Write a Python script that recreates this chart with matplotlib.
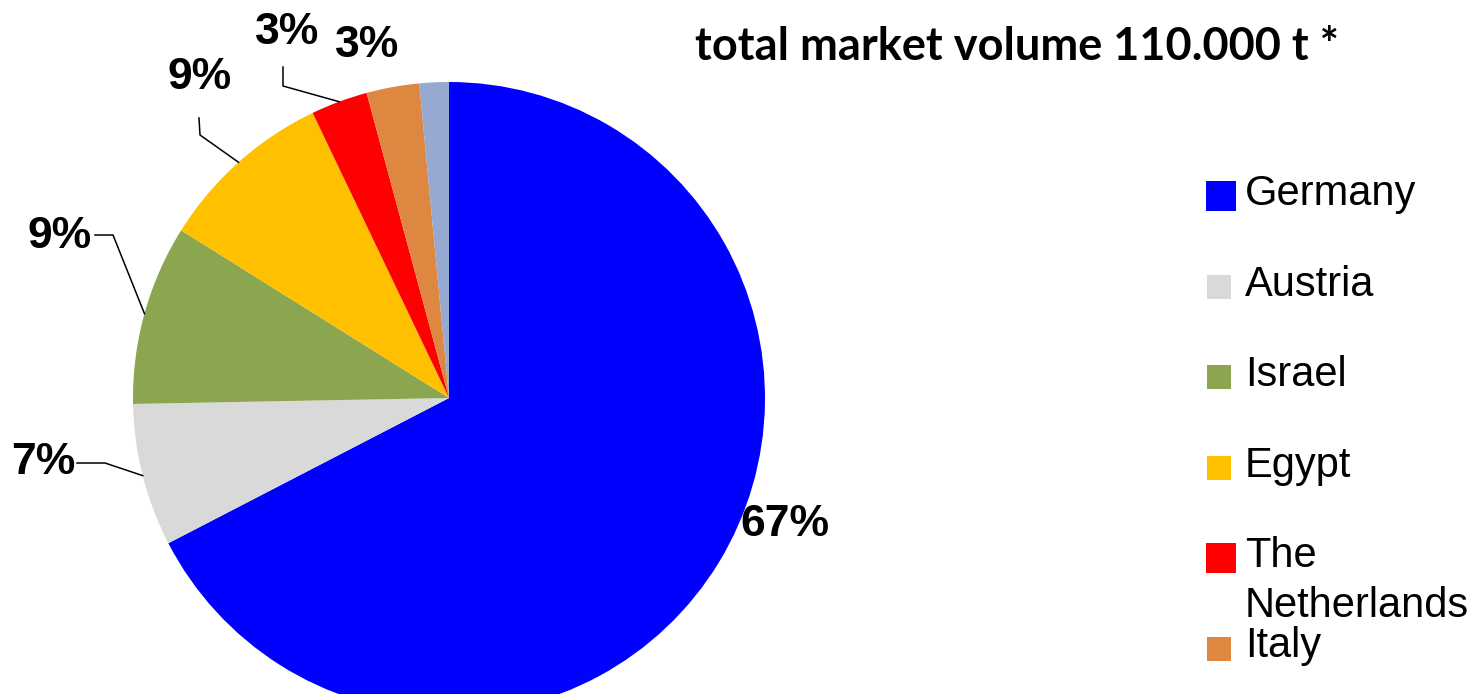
import numpy as np
import matplotlib.pyplot as plt
from matplotlib.patches import Rectangle

# market share of the total volume, in percent
countries = ["Germany", "Austria", "Israel", "Egypt", "The\nNetherlands", "Italy", "Other"]
shares = [67.4, 7.3, 9.2, 9.0, 2.9, 2.7, 1.5]
colors = ["#0000FF", "#D9D9D9", "#8BA64E", "#FFC000", "#FF0000", "#DD8740", "#95A9D1"]
title_text = "total market volume 110.000 t *"

W, H = 1483, 694
fig = plt.figure(figsize=(W / 100, H / 100), dpi=100)
ax = fig.add_axes([0, 0, 1, 1])


def iy(y):
    ## convert a top-down pixel row into the axes' y-up coordinate
    return H - y


cx, cy, radius = 449, 398, 316
wedges, _ = ax.pie(shares, colors=colors, startangle=90, counterclock=False,
                   center=(cx, iy(cy)), radius=radius, frame=True,
                   wedgeprops=dict(linewidth=0))
ax.set_xlim(0, W)
ax.set_ylim(0, H)
ax.axis("off")

## label placement per slice: text centre, optional elbow points of the leader line
label_layout = {
    0: dict(pos=(785, 525), line=None),
    1: dict(pos=(43, 463), line=[(77, 463), (105, 463)]),
    2: dict(pos=(60, 236), line=[(95, 235), (113, 235)]),
    3: dict(pos=(200, 77), line=[(199, 118), (200, 135)]),
    4: dict(pos=(287, 32), line=[(283, 67), (283, 86)]),
    5: dict(pos=(367, 45), line=None),
}
label_font = dict(family=["Liberation Sans", "DejaVu Sans"], fontsize=32, fontweight="bold")

for i, wedge in enumerate(wedges):
    if i not in label_layout:
        continue
    layout = label_layout[i]
    x, y = layout["pos"]
    ax.text(x, iy(y), f"{round(shares[i])}%", ha="center", va="center", **label_font)
    if layout["line"]:
        mid = np.deg2rad((wedge.theta1 + wedge.theta2) / 2)
        ex = cx + radius * np.cos(mid)
        ey = iy(cy) + radius * np.sin(mid)
        xs = [p[0] for p in layout["line"]] + [ex]
        ys = [iy(p[1]) for p in layout["line"]] + [ey]
        ax.plot(xs, ys, color="black", linewidth=1.1)

ax.text(695, iy(47), title_text, ha="left", va="center",
        family=["Lato", "DejaVu Sans"], fontsize=32.5, fontweight="bold")

## legend drawn by hand: fixed slots, wrapped names spill into the gap
legend_font = dict(family=["Liberation Sans", "DejaVu Sans"], fontsize=30)
big_box = {0, 4}
for i, name in enumerate(countries[:6]):
    base = 205 + 90.5 * i
    size = 30 if i in big_box else 24
    left = 1206 if i in big_box else 1207
    ax.add_patch(Rectangle((left, iy(base - 9 + size / 2)), size, size,
                           facecolor=colors[i], edgecolor="none"))
    for k, line in enumerate(name.split("\n")):
        ax.text(1245, iy(base + 50 * k), line, ha="left", va="baseline", **legend_font)

fig.savefig("out.png", dpi=100)
